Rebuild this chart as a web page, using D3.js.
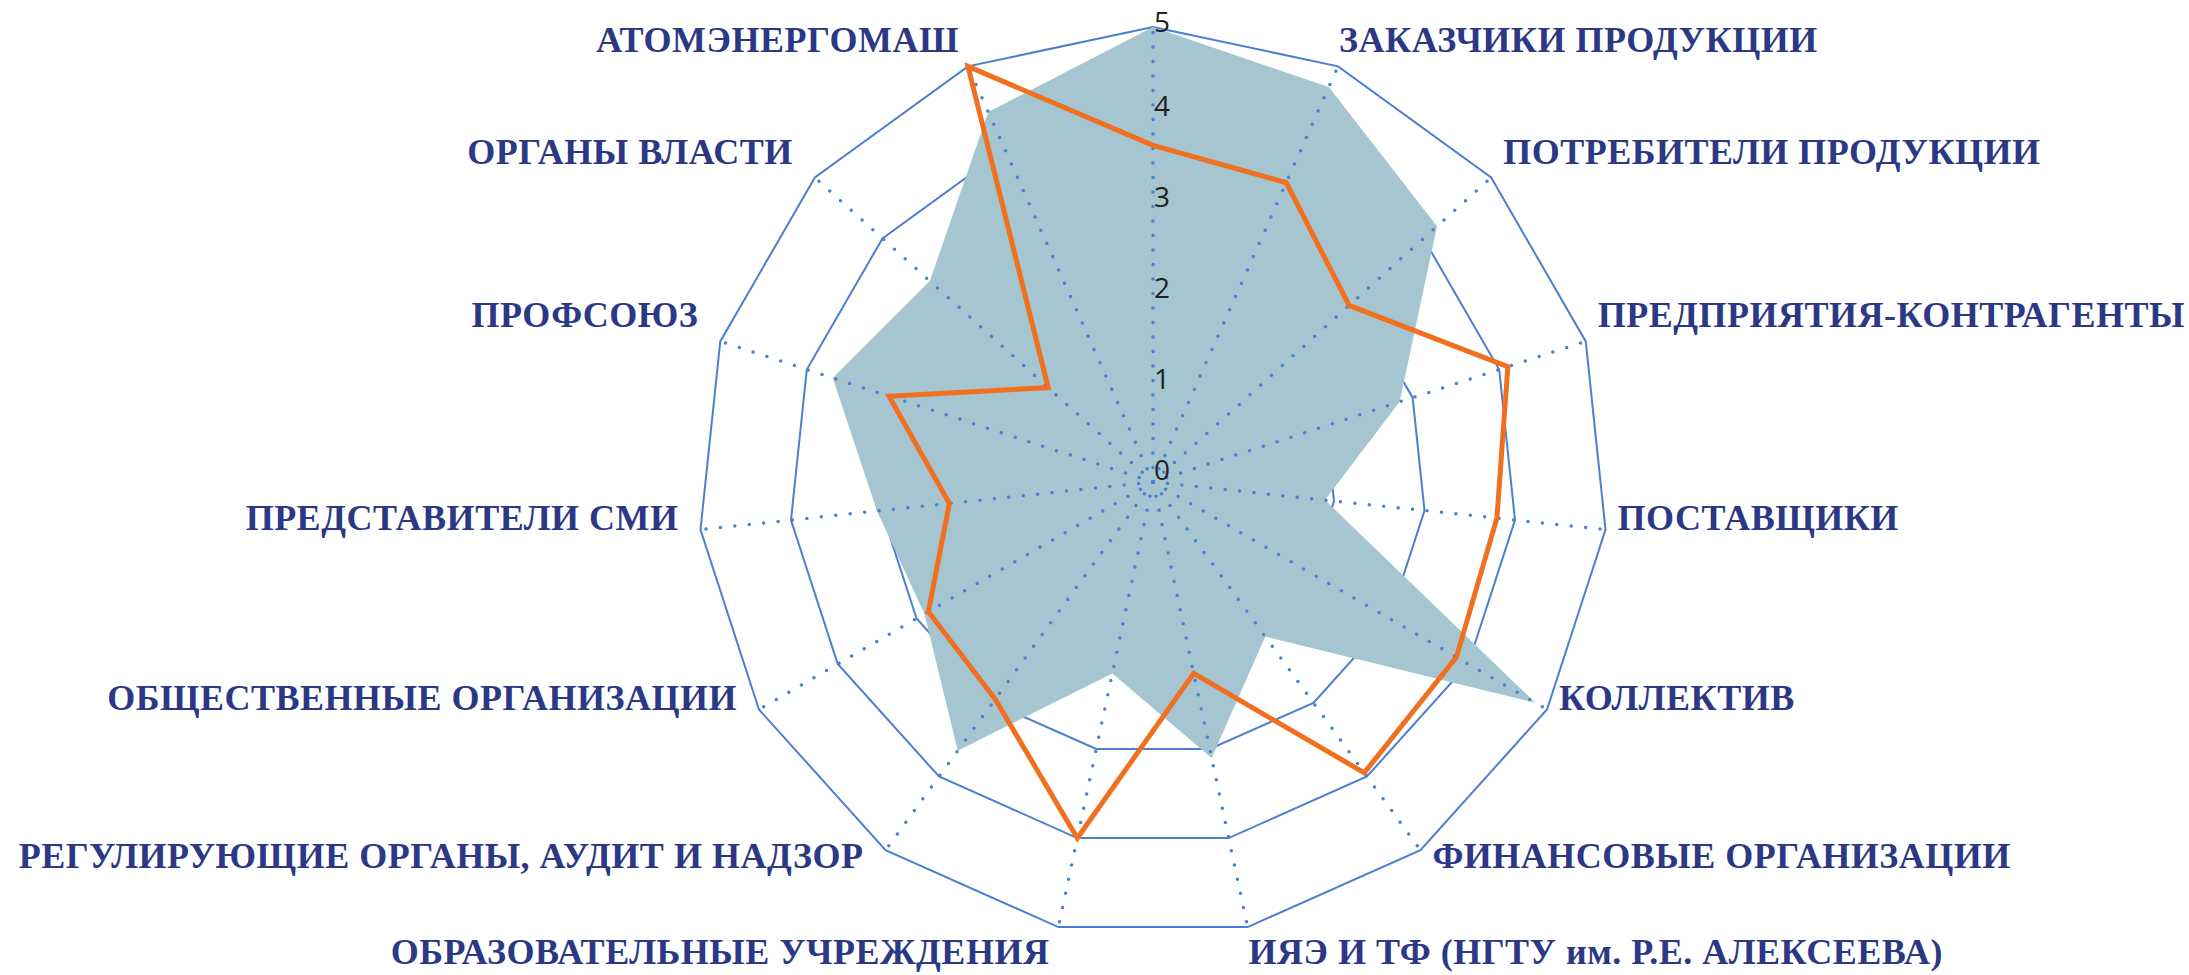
<!DOCTYPE html>
<html>
<head>
<meta charset="utf-8">
<script src="https://cdn.jsdelivr.net/npm/d3@7"></script>
<style>
  html, body { margin: 0; padding: 0; background: #fff; }
  svg { display: block; }
</style>
</head>
<body>
<div id="chart"></div>
<script>
// категории по часовой стрелке, начиная с верхней оси (у верхней оси подписи нет)
var categories = [
    "",
    "ЗАКАЗЧИКИ ПРОДУКЦИИ",
    "ПОТРЕБИТЕЛИ ПРОДУКЦИИ",
    "ПРЕДПРИЯТИЯ-КОНТРАГЕНТЫ",
    "ПОСТАВЩИКИ",
    "КОЛЛЕКТИВ",
    "ФИНАНСОВЫЕ ОРГАНИЗАЦИИ",
    "ИЯЭ И ТФ (НГТУ им. Р.Е. АЛЕКСЕЕВА)",
    "ОБРАЗОВАТЕЛЬНЫЕ УЧРЕЖДЕНИЯ",
    "РЕГУЛИРУЮЩИЕ ОРГАНЫ, АУДИТ И НАДЗОР",
    "ОБЩЕСТВЕННЫЕ ОРГАНИЗАЦИИ",
    "ПРЕДСТАВИТЕЛИ СМИ",
    "ПРОФСОЮЗ",
    "ОРГАНЫ ВЛАСТИ",
    "АТОМЭНЕРГОМАШ"
];

// заливка (голубая область)
var areaValues = [5.0, 4.75, 4.2, 2.85, 1.9, 4.85, 2.1, 3.1, 2.15, 3.65, 2.9, 3.05, 3.7, 3.3, 4.45];
// оранжевая линия
var lineValues = [3.7, 3.6, 2.9, 4.1, 3.8, 3.85, 3.95, 2.15, 4.0, 2.95, 2.85, 2.25, 3.05, 1.55, 5.0];

var ticks = [0, 1, 2, 3, 4, 5];

// размеры
let width = 2189;
let height = 975;
let cx = 1153, cy = 482;
let R = 455;

var rScale = d3.scaleLinear()
    .domain([0, 5])
    .range([0, R]);

var aScale = d3.scaleLinear()
    .domain([0, categories.length])
    .range([0, 2 * Math.PI]);

function px(i, v) { return cx + rScale(v) * Math.sin(aScale(i)); }
function py(i, v) { return cy - rScale(v) * Math.cos(aScale(i)); }

var svg = d3.select("#chart").append("svg")
    .attr("width", width)
    .attr("height", height);

var g = svg.append("g").attr("transform", "translate(" + cx + "," + cy + ")");

var radial = d3.lineRadial()
    .angle(function (d, i) { return aScale(i); })
    .radius(function (d) { return rScale(d); })
    .curve(d3.curveLinearClosed);

var gridColor = "#4a7fd1";

// кольца сетки
g.selectAll(".ring")
    .data(ticks.slice(1))
    .enter()
    .append("path")
    .attr("class", "ring")
    .attr("d", function (t) { return radial(categories.map(function () { return t; })); })
    .attr("fill", "none")
    .attr("stroke", gridColor)
    .attr("stroke-width", 2);

// заливка
g.append("path")
    .datum(areaValues)
    .attr("d", radial)
    .attr("fill", "#a5c5d1")
    .attr("stroke", "none");

// пунктирные оси
g.selectAll(".spoke")
    .data(categories)
    .enter()
    .append("line")
    .attr("class", "spoke")
    .attr("x1", 0)
    .attr("y1", 0)
    .attr("x2", function (d, i) { return rScale(5) * Math.sin(aScale(i)); })
    .attr("y2", function (d, i) { return -rScale(5) * Math.cos(aScale(i)); })
    .attr("stroke", gridColor)
    .attr("stroke-width", 3.5)
    .attr("stroke-linecap", "round")
    .attr("stroke-dasharray", "0,14.5");

// оранжевая линия
g.append("path")
    .datum(lineValues)
    .attr("d", radial)
    .attr("fill", "none")
    .attr("stroke", "#f07020")
    .attr("stroke-width", 5)
    .attr("stroke-linejoin", "miter");

// подписи шкалы
svg.selectAll(".tick")
    .data(ticks)
    .enter()
    .append("text")
    .attr("class", "tick")
    .text(function (d) { return d; })
    .attr("x", cx + 1)
    .attr("y", function (d) { return Math.max(cy - rScale(d) - 13, 21); })
    .attr("dominant-baseline", "central")
    .attr("font-family", "'Open Sans', sans-serif")
    .attr("font-size", "28px")
    .attr("fill", "#231f20");

// сдвиг подписи по вертикали в зависимости от положения оси
function labelDy(c) {
    if (c > 0.2) return -26;
    if (c < -0.95) return 25;
    if (c < -0.7) return 6;
    return -12;
}

// подписи категорий
svg.selectAll(".label")
    .data(categories)
    .enter()
    .append("text")
    .attr("class", "label")
    .text(function (d) { return d; })
    .attr("x", function (d, i) {
        var s = Math.sin(aScale(i));
        var steep = Math.abs(Math.cos(aScale(i))) > 0.9;
        if (s >= 0) return px(i, 5) + (steep ? 1 : 12);
        return px(i, 5) - (steep ? 9 : 22);
    })
    .attr("y", function (d, i) { return py(i, 5) + labelDy(Math.cos(aScale(i))); })
    .attr("text-anchor", function (d, i) { return Math.sin(aScale(i)) >= 0 ? "start" : "end"; })
    .attr("dominant-baseline", "central")
    .attr("font-family", "'Liberation Serif', serif")
    .attr("font-weight", "bold")
    .attr("font-size", "36px")
    .attr("letter-spacing", "0.5px")
    .attr("fill", "#2b3885");
</script>
</body>
</html>
